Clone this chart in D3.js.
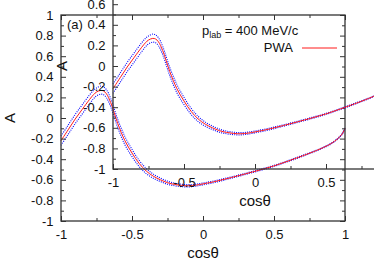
<!DOCTYPE html>
<html><head><meta charset="utf-8">
<script src="https://cdn.jsdelivr.net/npm/d3@7"></script>
<style>
html,body{margin:0;padding:0;background:#fff;}
svg{display:block;font-family:"Liberation Sans",Arial,Helvetica,sans-serif;}
</style></head>
<body>
<svg id="chart" width="374" height="262"></svg>
<script>
// ---- data ----
const cosTheta = [-1, -0.95, -0.9, -0.85, -0.8, -0.77, -0.75, -0.72, -0.7, -0.68, -0.65, -0.6, -0.55, -0.5, -0.45, -0.4, -0.35, -0.3, -0.25, -0.2, -0.15, -0.1, -0.05, 0, 0.1, 0.2, 0.3, 0.4, 0.5, 0.6, 0.7, 0.8, 0.85, 0.9, 0.95, 0.98, 1.0];
const aPWA   = [-0.22, -0.115, -0.01, 0.085, 0.178, 0.228, 0.252, 0.268, 0.262, 0.235, 0.15, -0.055, -0.22, -0.34, -0.44, -0.515, -0.565, -0.60, -0.628, -0.645, -0.655, -0.658, -0.652, -0.64, -0.612, -0.578, -0.542, -0.505, -0.465, -0.418, -0.368, -0.315, -0.285, -0.25, -0.2, -0.155, -0.1];
const aUpper = [-0.175, -0.07, 0.035, 0.13, 0.222, 0.27, 0.292, 0.31, 0.302, 0.275, 0.19, -0.015, -0.18, -0.305, -0.41, -0.49, -0.545, -0.583, -0.613, -0.632, -0.643, -0.647, -0.642, -0.631, -0.604, -0.571, -0.536, -0.499, -0.46, -0.413, -0.363, -0.311, -0.281, -0.246, -0.196, -0.151, -0.096];
const aLower = [-0.265, -0.16, -0.055, 0.04, 0.135, 0.188, 0.214, 0.232, 0.226, 0.198, 0.11, -0.095, -0.26, -0.375, -0.47, -0.54, -0.585, -0.617, -0.643, -0.658, -0.667, -0.669, -0.662, -0.649, -0.62, -0.585, -0.548, -0.511, -0.47, -0.423, -0.373, -0.319, -0.289, -0.254, -0.204, -0.159, -0.104];

const xTicks = [-1, -0.5, 0, 0.5, 1];
const xTickLabels = ["-1", "-0.5", "0", "0.5", "1"];
const xMinor = [-0.75, -0.25, 0.25, 0.75];
const yTicks = [-1, -0.8, -0.6, -0.4, -0.2, 0, 0.2, 0.4, 0.6, 0.8, 1];
const yTickLabels = ["-1", "-0.8", "-0.6", "-0.4", "-0.2", "0", "0.2", "0.4", "0.6", "0.8", "1"];
const yMinor = [-0.9, -0.7, -0.5, -0.3, -0.1, 0.1, 0.3, 0.5, 0.7, 0.9];

const W = 374, H = 262;
const svg = d3.select("#chart");
svg.append("rect").attr("width", W).attr("height", H).attr("fill", "#fff");

function panel(ox, oy, withKey) {
  const L = 61 + ox, R = 345 + ox, T = 15 + oy, B = 221 + oy;
  const x = d3.scaleLinear().domain([-1, 1]).range([L, R]);
  const y = d3.scaleLinear().domain([-1, 1]).range([B, T]);
  const g = svg.append("g");

  const pts = (arr) => cosTheta.map((c, i) => [c, arr[i]]);
  const line = d3.line().x(d => x(d[0])).y(d => y(d[1])).curve(d3.curveCatmullRom.alpha(0.5));

  g.append("path").attr("d", line(pts(aUpper))).attr("fill", "none")
    .attr("stroke", "#0000ff").attr("stroke-width", 1.1).attr("stroke-dasharray", "1,1.2");
  g.append("path").attr("d", line(pts(aLower))).attr("fill", "none")
    .attr("stroke", "#0000ff").attr("stroke-width", 1.1).attr("stroke-dasharray", "1,1.2");
  g.append("path").attr("d", line(pts(aPWA))).attr("fill", "none")
    .attr("stroke", "#ff1a1a").attr("stroke-width", 1);

  // only label ticks whose label lies inside the picture
  const xLab = xTicks.filter(v => x(v) + 4 <= W);
  const yLab = yTicks.filter(v => y(v) >= 0);
  const fmtX = d => xLab.includes(d) ? xTickLabels[xTicks.indexOf(d)] : "";
  const fmtY = d => yLab.includes(d) ? yTickLabels[yTicks.indexOf(d)] : "";
  const clean = s => s.call(a => a.select(".domain").remove())
                      .call(a => a.selectAll("text").filter(function () { return this.textContent === ""; }).remove());
  const styleAx = s => s.call(a => a.selectAll("line").attr("stroke", "#333").attr("stroke-width", 1))
                        .call(a => a.selectAll("text").attr("fill", "#111").attr("font-size", 13)
                                     .attr("font-family", "'Liberation Sans',Arial,sans-serif"));

  // bottom
  g.append("g").attr("transform", `translate(0,${B})`)
    .call(d3.axisBottom(x).tickValues(xTicks).tickFormat(fmtX).tickSizeInner(-5).tickSizeOuter(0).tickPadding(9))
    .call(clean).call(styleAx);
  g.append("g").attr("transform", `translate(0,${B})`)
    .call(d3.axisBottom(x).tickValues(xMinor).tickFormat("").tickSizeInner(-3).tickSizeOuter(0))
    .call(clean).call(styleAx);
  // top (mirror)
  g.append("g").attr("transform", `translate(0,${T})`)
    .call(d3.axisTop(x).tickValues(xTicks).tickFormat("").tickSizeInner(-5).tickSizeOuter(0))
    .call(clean).call(styleAx);
  g.append("g").attr("transform", `translate(0,${T})`)
    .call(d3.axisTop(x).tickValues(xMinor).tickFormat("").tickSizeInner(-3).tickSizeOuter(0))
    .call(clean).call(styleAx);
  // left
  g.append("g").attr("transform", `translate(${L},0)`)
    .call(d3.axisLeft(y).tickValues(yTicks).tickFormat(fmtY).tickSizeInner(-5).tickSizeOuter(0).tickPadding(7.5))
    .call(clean).call(styleAx);
  g.append("g").attr("transform", `translate(${L},0)`)
    .call(d3.axisLeft(y).tickValues(yMinor).tickFormat("").tickSizeInner(-3).tickSizeOuter(0))
    .call(clean).call(styleAx);
  // right (mirror)
  g.append("g").attr("transform", `translate(${R},0)`)
    .call(d3.axisRight(y).tickValues(yTicks).tickFormat("").tickSizeInner(-5).tickSizeOuter(0))
    .call(clean).call(styleAx);
  g.append("g").attr("transform", `translate(${R},0)`)
    .call(d3.axisRight(y).tickValues(yMinor).tickFormat("").tickSizeInner(-3).tickSizeOuter(0))
    .call(clean).call(styleAx);

  // frame
  g.append("rect").attr("x", L).attr("y", T).attr("width", R - L).attr("height", B - T)
    .attr("fill", "none").attr("stroke", "#333").attr("stroke-width", 1.3);

  // axis titles
  g.append("text").attr("x", (L + R) / 2).attr("y", B + 37).attr("text-anchor", "middle")
    .attr("font-size", 15).attr("fill", "#111").text("cosθ");
  g.append("text").attr("transform", `translate(${L - 46},${(T + B) / 2}) rotate(-90)`)
    .attr("text-anchor", "middle").attr("font-size", 15).attr("fill", "#111").text("A");

  if (withKey) {
    g.append("text").attr("x", L + 6).attr("y", T + 14).attr("font-size", 13).attr("fill", "#111").text("(a)");
    const t = g.append("text").attr("x", L + 141).attr("y", T + 20).attr("font-size", 13).attr("fill", "#111");
    t.append("tspan").text("p");
    t.append("tspan").attr("font-size", 9).attr("dy", 3).text("lab");
    t.append("tspan").attr("dy", -3).text(" = 400 MeV/c");
    g.append("text").attr("x", R - 52).attr("y", T + 37).attr("text-anchor", "end")
      .attr("font-size", 13).attr("fill", "#111").text("PWA");
    g.append("line").attr("x1", R - 43).attr("x2", R - 8).attr("y1", T + 33).attr("y2", T + 33)
      .attr("stroke", "#ff1a1a").attr("stroke-width", 1);
  }
}

panel(0, 0, true);
panel(52, -52, false);
</script>
</body></html>
